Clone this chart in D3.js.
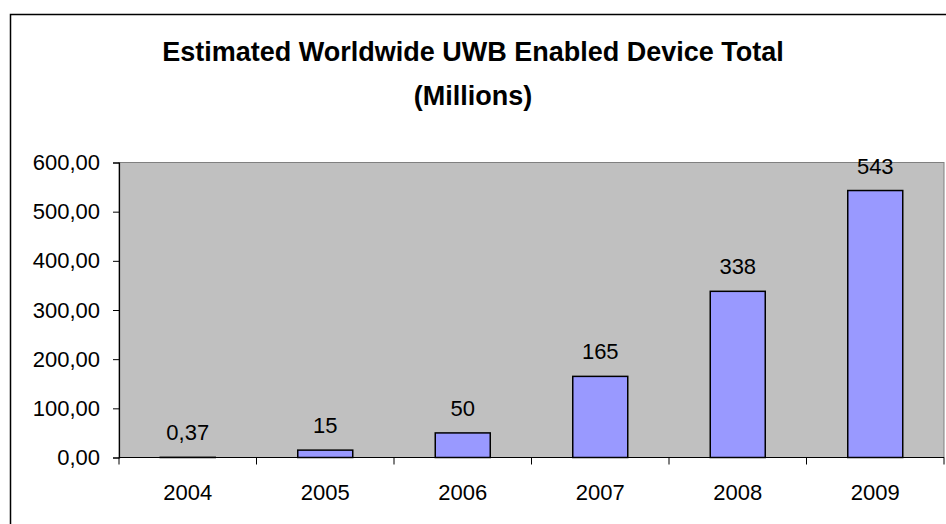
<!DOCTYPE html>
<html>
<head>
<meta charset="utf-8">
<script src="https://cdn.jsdelivr.net/npm/d3@7"></script>
<style>
  html, body { margin: 0; padding: 0; background: #fff; }
  svg { display: block; font-family: Arial, "Liberation Sans", sans-serif; }
</style>
</head>
<body>
<svg id="chart" width="946" height="524"></svg>
<script>
// Chart data
const years = ["2004", "2005", "2006", "2007", "2008", "2009"];
const devices = [0.37, 15, 50, 165, 338, 543];
const valueLabels = ["0,37", "15", "50", "165", "338", "543"];
const yTicks = [0, 100, 200, 300, 400, 500, 600];
const titleLines = ["Estimated Worldwide UWB Enabled Device Total", "(Millions)"];

const svg = d3.select("#chart");
const W = 946, H = 524;
const FS = 22;

// Outer chart frame (open to the right and bottom)
svg.append("rect")
  .attr("x", 10.5).attr("y", 14.5)
  .attr("width", W + 20).attr("height", H + 20)
  .attr("fill", "#fff").attr("stroke", "#000").attr("stroke-width", 1.5);

const plot = { left: 119, top: 162.5, right: 944, bottom: 457.5 };

const x = d3.scaleBand()
  .domain(years)
  .range([plot.left, plot.right])
  .paddingInner(0.6).paddingOuter(0.3);

const y = d3.scaleLinear()
  .domain([0, 600])
  .range([plot.bottom, plot.top]);

// Plot area background
svg.append("rect")
  .attr("x", plot.left).attr("y", plot.top)
  .attr("width", plot.right - plot.left).attr("height", plot.bottom - plot.top)
  .attr("fill", "#c0c0c0").attr("stroke", "#808080").attr("stroke-width", 1);

// Title
svg.append("g").selectAll("text")
  .data(titleLines).join("text")
  .attr("x", 473).attr("y", (d, i) => 61 + i * 44)
  .attr("text-anchor", "middle")
  .attr("font-size", 27).attr("font-weight", "bold")
  .attr("fill", "#000")
  .text(d => d);

// Bars
svg.append("g").selectAll("rect")
  .data(devices).join("rect")
  .attr("x", (d, i) => x(years[i]))
  .attr("y", d => y(d))
  .attr("width", x.bandwidth())
  .attr("height", d => y(0) - y(d))
  .attr("fill", "#9999ff").attr("stroke", "#000").attr("stroke-width", 1.5);

// Value labels
svg.append("g").selectAll("text")
  .data(devices).join("text")
  .attr("x", (d, i) => x(years[i]) + x.bandwidth() / 2)
  .attr("y", d => y(d) - 17)
  .attr("text-anchor", "middle")
  .attr("font-size", FS).attr("fill", "#000")
  .text((d, i) => valueLabels[i]);

// Y axis
const fmt = v => d3.format(".2f")(v).replace(".", ",");
const yAxis = svg.append("g")
  .attr("transform", `translate(${plot.left},0)`)
  .call(d3.axisLeft(y).tickValues(yTicks).tickFormat(fmt).tickSize(6).tickPadding(13));
yAxis.select(".domain").attr("stroke", "#000").attr("stroke-width", 1.2);
yAxis.selectAll(".tick line").attr("stroke", "#000");
yAxis.selectAll(".tick text").attr("font-size", FS).attr("font-family", "Arial, 'Liberation Sans', sans-serif").attr("fill", "#000");

// X axis with ticks at category boundaries
const xAxisG = svg.append("g").attr("transform", `translate(0,${plot.bottom})`);
xAxisG.append("line")
  .attr("x1", plot.left).attr("x2", plot.right)
  .attr("stroke", "#000").attr("stroke-width", 1.2);
const step = (plot.right - plot.left) / years.length;
xAxisG.selectAll("line.tk")
  .data(d3.range(years.length + 1)).join("line")
  .attr("class", "tk")
  .attr("x1", i => plot.left + i * step).attr("x2", i => plot.left + i * step)
  .attr("y1", 0).attr("y2", 7)
  .attr("stroke", "#000");
xAxisG.selectAll("text")
  .data(years).join("text")
  .attr("x", d => x(d) + x.bandwidth() / 2)
  .attr("y", 42)
  .attr("text-anchor", "middle")
  .attr("font-size", FS).attr("fill", "#000")
  .text(d => d);
</script>
</body>
</html>
